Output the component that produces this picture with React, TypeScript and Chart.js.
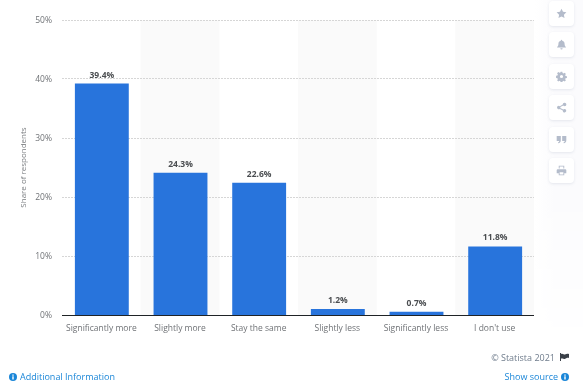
import React, { useEffect, useRef } from "react";
import { Chart, registerables } from "chart.js";

Chart.register(...registerables);

const categories = ["Significantly more", "Slightly more", "Stay the same", "Slightly less", "Significantly less", "I don't use"];
const shares = [39.4, 24.3, 22.6, 1.2, 0.7, 11.8];
const axisTitle = "Share of respondents";
const copyright = "© Statista 2021";
const additionalInfo = "Additional Information";
const showSource = "Show source";
const FONT = "'Open Sans', sans-serif";

const bandsAndLabels = {
  id: "bandsAndLabels",
  beforeDraw(chart: any) {
    const { ctx, chartArea, scales } = chart;
    const band = chartArea.width / categories.length;
    ctx.save();
    ctx.fillStyle = "#fafafa";
    categories.forEach((_, i) => {
      if (i % 2 === 1) {
        ctx.fillRect(scales.x.getPixelForValue(i) - band / 2, chartArea.top, band, chartArea.height);
      }
    });
    ctx.restore();
  },
  beforeDatasetsDraw(chart: any) {
    chart.ctx.save();
    chart.ctx.translate(0.5, 1);
  },
  afterDatasetsDraw(chart: any) {
    const { ctx, scales, chartArea } = chart;
    ctx.restore();
    ctx.save();
    ctx.fillStyle = "#ffffff";
    ctx.fillRect(chartArea.left, Math.round(chartArea.bottom) + 1, chartArea.width + 2, 2);
    ctx.strokeStyle = "#1f2326";
    ctx.lineWidth = 1;
    ctx.beginPath();
    ctx.moveTo(chartArea.left, Math.round(chartArea.bottom) + 0.5);
    ctx.lineTo(chartArea.right, Math.round(chartArea.bottom) + 0.5);
    ctx.stroke();
    ctx.fillStyle = "#4a4d50";
    ctx.font = `bold 8.5px ${FONT}`;
    ctx.textAlign = "center";
    ctx.textBaseline = "alphabetic";
    shares.forEach((v, i) => {
      ctx.fillText(`${v}%`, scales.x.getPixelForValue(i) + 0.5, scales.y.getPixelForValue(v) - 5);
    });
    ctx.restore();
  },
};

const iconPaths = [
  "M8 1l2.2 4.5 4.9.7-3.6 3.5.9 4.9L8 12.3l-4.4 2.3.9-4.9L.9 6.2l4.9-.7z",
  "M8 1a1 1 0 0 1 1 1v.6c2.3.5 3.5 2.3 3.5 4.6 0 2.2.7 3.3 1.9 4.3v.9H1.6v-.9c1.2-1 1.9-2.1 1.9-4.3C3.5 4.900 4.700 3.100 7 2.600V2a1 1 0 0 1 1-1zM6.300 13.500h3.400a1.700 1.700 0 0 1-3.400 0z",
  "M6.800 1h2.400l.4 2 1.400.6 1.700-1.100 1.700 1.700-1.100 1.700.6 1.400 2 .4v2.400l-2 .4-.6 1.400 1.100 1.700-1.700 1.700-1.700-1.100-1.400.6-.4 2H6.800l-.4-2-1.400-.6-1.700 1.100-1.700-1.700 1.100-1.700-.6-1.400-2-.4V6.800l2-.4.6-1.400-1.100-1.700 1.700-1.700 1.700 1.100 1.400-.6zM8 5.700a2.300 2.300 0 1 0 0 4.600 2.300 2.300 0 0 0 0-4.600z",
  "M12.500 1a2.500 2.500 0 1 1-1.900 4.100L6.300 7.300a2.500 2.500 0 0 1 0 1.400l4.300 2.200a2.500 2.500 0 1 1-.7 1.300L5.600 10a2.500 2.500 0 1 1 0-4l4.300-2.200A2.500 2.500 0 0 1 12.500 1z",
  "M1 3h6v6c0 2.500-1.300 4-3.700 4.500l-.5-1.300C4 11.800 4.600 11 4.700 10H1zM9 3h6v6c0 2.500-1.300 4-3.700 4.500l-.5-1.300c1.200-.4 1.800-1.200 1.900-2.200H9z",
  "M4 1h8v4h-1.300V2.300H5.300V5H4zM2.500 6h11A1.500 1.500 0 0 1 15 7.500V12h-3v3H4v-3H1V7.500A1.500 1.500 0 0 1 2.500 6zM5.300 10.500v3.200h5.400v-3.200z",
];
const iconTops = [1, 32, 64, 95, 127, 158];

export default function App() {
  const ref = useRef<HTMLCanvasElement>(null);
  useEffect(() => {
    const chart = new Chart(ref.current!, {
      type: "bar",
      data: {
        labels: categories,
        datasets: [{ data: shares, backgroundColor: "#2874dc", borderWidth: 0, barPercentage: 0.685, categoryPercentage: 1 }],
      },
      options: {
        responsive: false,
        animation: false,
        layout: { padding: { top: 20, right: 49, left: 0, bottom: 0 } },
        plugins: { legend: { display: false }, tooltip: { enabled: false } },
        scales: {
          x: {
            afterFit(s: any) { s.height = 70; },
            grid: { display: false },
            border: { display: false },
            ticks: { color: "#6f7276", font: { family: FONT, size: 8.5 }, padding: 0, maxRotation: 0, autoSkip: false },
          },
          y: {
            min: 0,
            max: 50,
            afterFit(s: any) {
              s.width = 62;
              if (!s.__shifted) {
                s.__shifted = true;
                const draw = s.drawLabels;
                s.drawLabels = function (area: any) {
                  s.ctx.save();
                  s.ctx.translate(0, 1);
                  draw.call(s, area);
                  s.ctx.restore();
                };
              }
            },
            grid: { color: "#d6d6d6", drawTicks: false, tickLength: 0 },
            border: { display: false, dash: [2, 1] },
            ticks: { stepSize: 10, color: "#6f7276", padding: 10, font: { family: FONT, size: 8.5 }, callback: (v: any) => `${v}%` },
            title: { display: true, text: axisTitle, color: "#7a7d80", font: { family: FONT, size: 8 }, padding: { top: 19, bottom: 0 } },
          },
        },
      },
      plugins: [bandsAndLabels],
    } as any);
    return () => chart.destroy();
  }, []);

  const link = "#1a86d8";
  return (
    <div style={{ position: "absolute", left: 0, top: 0, width: 583, height: 385, overflow: "hidden", background: "#fff", fontFamily: FONT }}>
      <canvas ref={ref} width={583} height={385} style={{ position: "absolute", left: 0, top: 0, display: "block" }} />
      <div style={{ position: "absolute", left: 535, top: 0, width: 48, height: 385, background: "linear-gradient(to right,#ffffff,#fbfbfd 40%,#fbfbfd)", WebkitMaskImage: "linear-gradient(to bottom,#000 50%,transparent 90%)" }} />
      {iconTops.map((t, i) => (
        <div key={i} style={{ position: "absolute", left: 549, top: t, width: 25, height: 25, background: "#fff", borderRadius: 4, boxShadow: "0 1px 3px rgba(150,160,180,0.22)", display: "flex", alignItems: "center", justifyContent: "center" }}>
          <svg width="11" height="11" viewBox="0 0 16 16"><path d={iconPaths[i]} fill="#b4bccb" fillRule="evenodd" /></svg>
        </div>
      ))}
      <div style={{ position: "absolute", right: 14, top: 352, fontSize: 9, lineHeight: "12px", color: "#6f7c8c", whiteSpace: "nowrap" }}>
        {copyright}
        <svg width="9" height="8" viewBox="0 0 9 8" style={{ marginLeft: 5 }}><path d="M0 0h1v8H0zM1 1c2-1 3 1 4 .5S7 .5 9 1v4c-2-.500-3 .500-4 1S3 5 1 5.500z" fill="#3a4048" /></svg>
      </div>
      <div style={{ position: "absolute", right: 14, top: 371, fontSize: 9, lineHeight: "12px", color: link, whiteSpace: "nowrap", display: "flex", alignItems: "center", gap: 3 }}>
        {showSource}
        <svg width="8" height="8" viewBox="0 0 8 8"><circle cx="4" cy="4" r="4" fill={link} /><rect x="3.300" y="3.300" width="1.400" height="3.200" fill="#fff" /><rect x="3.300" y="1.500" width="1.400" height="1.200" fill="#fff" /></svg>
      </div>
      <div style={{ position: "absolute", left: 9, top: 371, fontSize: 9, lineHeight: "12px", color: link, whiteSpace: "nowrap", display: "flex", alignItems: "center", gap: 3 }}>
        <svg width="8" height="8" viewBox="0 0 8 8"><circle cx="4" cy="4" r="4" fill={link} /><rect x="3.300" y="3.300" width="1.400" height="3.200" fill="#fff" /><rect x="3.300" y="1.500" width="1.400" height="1.200" fill="#fff" /></svg>
        {additionalInfo}
      </div>
    </div>
  );
}
